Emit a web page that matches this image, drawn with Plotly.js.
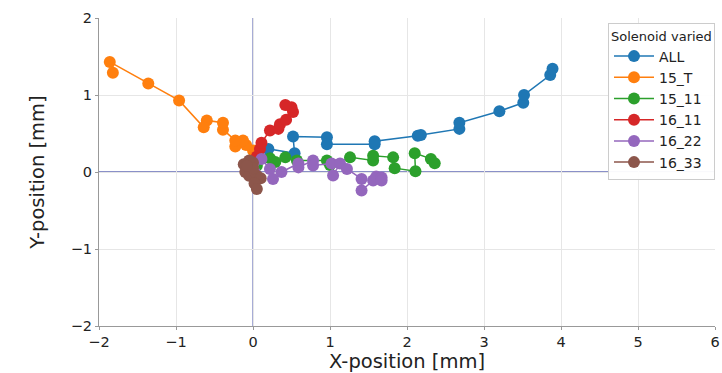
<!DOCTYPE html>
<html><head><meta charset="utf-8">
<script src="https://cdn.plot.ly/plotly-3.0.1.min.js"></script>
<style>html,body{margin:0;padding:0;background:#fff}#chart{width:722px;height:373px}</style>
</head><body><div id="chart"></div>
<script>
const seriesNames = ["ALL","15_T","15_11","16_11","16_22","16_33"];
const seriesColors = ["#1f77b4","#ff7f0e","#2ca02c","#d62728","#9467bd","#8c564b"];
const allX = [0.02,0.20,0.54,0.52,0.96,0.96,1.58,1.58,2.14,2.18,2.68,2.68,3.20,3.51,3.52,3.86,3.89];
const allY = [-0.02,0.30,0.245,0.46,0.45,0.36,0.36,0.40,0.47,0.48,0.56,0.64,0.79,0.90,1.00,1.26,1.34];
const tX = [0.03,0.00,-0.09,-0.13,-0.23,-0.23,-0.39,-0.39,-0.60,-0.64,-0.96,-1.36,-1.86,-1.82];
const tY = [0.20,0.28,0.35,0.41,0.33,0.41,0.55,0.64,0.67,0.58,0.93,1.15,1.43,1.29];
const g11X = [0.05,0.22,0.29,0.42,0.57,0.96,1.00,1.26,1.56,1.56,1.82,1.84,2.11,2.10,2.31,2.36];
const g11Y = [0.08,0.18,0.13,0.19,0.15,0.15,0.09,0.19,0.15,0.21,0.19,0.05,0.01,0.245,0.17,0.115];
const r11X = [0.05,0.09,0.11,0.22,0.33,0.35,0.43,0.52,0.50,0.42];
const r11Y = [0.20,0.30,0.38,0.54,0.56,0.62,0.68,0.78,0.84,0.87];
const p22X = [0.02,0.11,0.22,0.26,0.37,0.59,0.59,0.78,0.78,1.02,1.04,1.13,1.22,1.41,1.41,1.56,1.60,1.67,1.67];
const p22Y = [0.00,0.17,0.04,-0.09,0.00,0.11,0.06,0.15,0.085,0.11,-0.045,0.11,0.04,-0.09,-0.24,-0.11,-0.06,-0.07,-0.11];
const b33X = [0.00,-0.05,-0.12,-0.10,-0.05,0.05,0.10,0.02,0.05,0.00,-0.08];
const b33Y = [0.12,0.15,0.10,0.00,-0.05,-0.05,-0.08,-0.15,-0.22,0.05,0.08];
const xs = [allX,tX,g11X,r11X,p22X,b33X];
const ys = [allY,tY,g11Y,r11Y,p22Y,b33Y];
const xTicks = [-2,-1,0,1,2,3,4,5,6];
const yTicks = [-2,-1,0,1,2];

const traces = seriesNames.map((n,i)=>({
  type:'scatter', mode:'lines+markers', name:n, x:xs[i], y:ys[i],
  line:{color:seriesColors[i], width:1.5},
  marker:{color:seriesColors[i], size:12}
}));
const font = "DejaVu Sans, sans-serif";
const zc = '#8a90c8';
const layout = {
  width:722, height:373,
  margin:{l:99, r:7, t:18, b:47},
  paper_bgcolor:'#fff', plot_bgcolor:'#fff',
  font:{family:font, color:'#222', size:14},
  showlegend:true,
  legend:{x:1.0, y:0.985, xanchor:'right', yanchor:'top',
    bgcolor:'rgba(255,255,255,0.95)', bordercolor:'#cccccc', borderwidth:1,
    font:{family:font, size:14, color:'#222'},
    title:{text:'Solenoid varied', font:{family:font, size:13, color:'#222'}},
    tracegroupgap:0, itemwidth:40},
  shapes:[
    {type:'line', xref:'paper', yref:'y', x0:0, x1:1, y0:0, y1:0, line:{color:zc, width:2}, layer:'between'},
    {type:'line', xref:'x', yref:'paper', x0:0, x1:0, y0:0, y1:1, line:{color:zc, width:1.5}, layer:'between'}
  ],
  xaxis:{range:[-2,6], tickvals:xTicks, ticktext:xTicks.map(v=>v<0?'\u2212'+Math.abs(v):String(v)),
    showgrid:true, gridcolor:'#e6e6e6', zeroline:false,
    showline:true, linecolor:'#999', linewidth:1, ticks:'outside', ticklen:3, tickcolor:'#999',
    tickfont:{family:font, size:14.5, color:'#222'},
    title:{text:'X-position [mm]', font:{family:font, size:19.5, color:'#222'}, standoff:7}},
  yaxis:{range:[-2,2], tickvals:yTicks, ticktext:yTicks.map(v=>v<0?'\u2212'+Math.abs(v):String(v)),
    showgrid:true, gridcolor:'#e6e6e6', zeroline:false,
    showline:true, linecolor:'#999', linewidth:1, ticks:'outside', ticklen:3, tickcolor:'#999',
    tickfont:{family:font, size:14.5, color:'#222'},
    title:{text:'Y-position [mm]', font:{family:font, size:19.5, color:'#222'}, standoff:20}}
};
Plotly.newPlot('chart', traces, layout, {displayModeBar:false, staticPlot:true});
</script></body></html>
